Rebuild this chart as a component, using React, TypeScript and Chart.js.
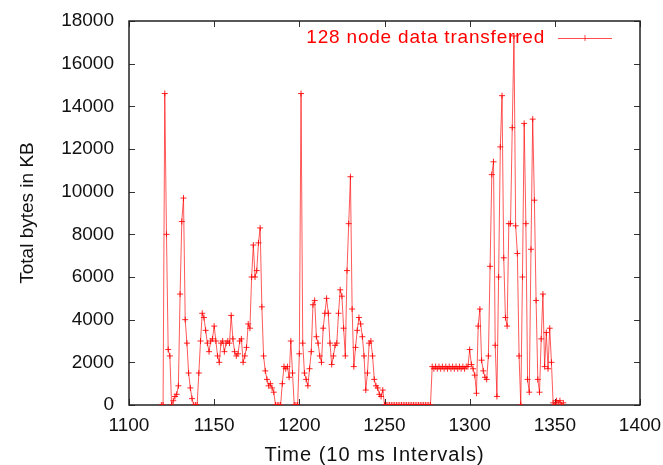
import React, { useEffect, useRef } from "react";
import { Chart, registerables } from "chart.js";

Chart.register(...registerables);

// Time steps (10 ms intervals) start at this value and advance by one per sample
const timeStart = 1119;

// Total bytes transferred (KB) per interval
const bytesKB = [
  0, 0, 14600, 8000, 2600, 2300, 0, 200, 400, 500, // 1119-1128
  900, 5200, 8600, 9700, 4000, 2900, 1500, 800, 300, 0, // 1129-1138
  0, 0, 1500, 3000, 4300, 4100, 3500, 2900, 2500, 3000, // 1139-1148
  3100, 3700, 3000, 2300, 2000, 2900, 3000, 2500, 2900, 3000, // 1149-1158
  2900, 4200, 3100, 2500, 2300, 2400, 3000, 3100, 2000, 2300, // 1159-1168
  2700, 3800, 3600, 6000, 7500, 6000, 6300, 7600, 8300, 4600, // 1169-1178
  2300, 1600, 1200, 900, 1000, 800, 600, 0, 0, 0, // 1179-1188
  0, 1000, 1800, 1700, 1800, 1300, 3000, 1500, 0, 0, // 1189-1198
  0, 2400, 14600, 2900, 1500, 1200, 900, 1700, 2500, 4700, // 1199-1208
  4900, 3200, 2900, 2300, 2000, 3600, 4300, 5000, 4300, 2900, // 1209-1218
  1900, 2300, 2800, 2900, 4300, 5400, 5100, 3600, 2300, 6300, // 1219-1228
  8500, 10700, 4500, 1800, 2700, 3500, 4100, 3800, 3200, 2300, // 1229-1238
  700, 1500, 2900, 3000, 2300, 1200, 900, 800, 500, 400, // 1239-1248
  700, 0, 0, 0, 0, 0, 0, 0, 0, 0, // 1249-1258
  0, 0, 0, 0, 0, 0, 0, 0, 0, 0, // 1259-1268
  0, 0, 0, 0, 0, 0, 0, 0, 0, 1800, // 1269-1278
  1700, 1800, 1700, 1800, 1700, 1800, 1700, 1800, 1700, 1800, // 1279-1288
  1700, 1800, 1700, 1800, 1700, 1800, 1700, 1800, 1700, 1800, // 1289-1298
  1800, 2600, 1900, 1700, 1400, 550, 3700, 4500, 2100, 1600, // 1299-1308
  1300, 1200, 2300, 6500, 10800, 11400, 2800, 400, 6000, 12100, // 1309-1318
  14500, 6900, 4100, 3700, 8500, 8500, 13000, 17300, 8400, 7100, // 1319-1328
  2300, 0, 6000, 13200, 8500, 1200, 600, 7300, 13400, 9600, // 1329-1338
  4900, 1200, 600, 3100, 5200, 1800, 3400, 1700, 3600, 2000, // 1339-1348
  100, 0, 200, 100, 200, 0, 100, // 1349-1355
];

const xTickValues = [1100, 1150, 1200, 1250, 1300, 1350, 1400];
const yTickValues = [0, 2000, 4000, 6000, 8000, 10000, 12000, 14000, 16000, 18000];

const seriesLabel = "128 node data transferred";
const xTitle = "Time (10 ms Intervals)";
const yTitle = "Total bytes in KB";

const FONT = '"Liberation Sans", Arial, Helvetica, sans-serif';
const RED = "#ff0000";

const framePlugin = {
  id: "gnuplotFrame",
  beforeDatasetsDraw(chart: any) {
    const { ctx, chartArea } = chart;
    const { left, right, top, bottom } = chartArea;
    const xs = chart.scales.x;
    const ys = chart.scales.y;
    const tl = 6;
    ctx.save();
    ctx.strokeStyle = "#333";
    ctx.lineWidth = 1;
    ctx.beginPath();
    for (const v of xTickValues) {
      const px = Math.round(xs.getPixelForValue(v)) + 0.5;
      ctx.moveTo(px, bottom);
      ctx.lineTo(px, bottom - tl);
      ctx.moveTo(px, top);
      ctx.lineTo(px, top + tl);
    }
    for (const v of yTickValues) {
      const py = Math.round(ys.getPixelForValue(v)) + 0.5;
      ctx.moveTo(left, py);
      ctx.lineTo(left + tl, py);
      ctx.moveTo(right, py);
      ctx.lineTo(right - tl, py);
    }
    ctx.stroke();
    ctx.strokeStyle = "#222";
    ctx.lineWidth = 1.5;
    ctx.strokeRect(left, top, right - left, bottom - top);
    ctx.restore();
  },
  afterDraw(chart: any) {
    const { ctx, chartArea } = chart;
    // legend (key) inside the plot, top right
    const y = chartArea.top + 17;
    const textRight = chartArea.right - 95;
    const x0 = chartArea.right - 82;
    const x1 = chartArea.right - 28;
    ctx.save();
    ctx.font = `19px ${FONT}`;
    (ctx as any).letterSpacing = "0.8px";
    ctx.fillStyle = RED;
    ctx.textAlign = "right";
    ctx.textBaseline = "middle";
    ctx.fillText(seriesLabel, textRight, y);
    ctx.strokeStyle = "rgba(255,0,0,0.7)";
    ctx.lineWidth = 1;
    ctx.beginPath();
    ctx.moveTo(x0, y + 0.5);
    ctx.lineTo(x1, y + 0.5);
    const mx = (x0 + x1) / 2;
    ctx.moveTo(mx, y - 3);
    ctx.lineTo(mx, y + 3);
    ctx.stroke();
    // x axis title
    ctx.font = `20px ${FONT}`;
    (ctx as any).letterSpacing = "1px";
    ctx.fillStyle = "#111";
    ctx.textAlign = "center";
    ctx.textBaseline = "middle";
    const cx = (chartArea.left + chartArea.right) / 2 - 10;
    ctx.fillText(xTitle, cx, chartArea.bottom + 50);
    ctx.restore();
  },
};

export default function App() {
  const ref = useRef<HTMLCanvasElement | null>(null);

  useEffect(() => {
    document.body.style.margin = "0";
    const canvas = ref.current;
    if (!canvas) return;
    const points = bytesKB.map((v, i) => ({ x: timeStart + i, y: v }));
    const chart = new Chart(canvas, {
      type: "line",
      data: {
        datasets: [
          {
            label: seriesLabel,
            data: points,
            borderColor: "rgba(255,0,0,0.65)",
            borderWidth: 1,
            pointStyle: "cross",
            pointRadius: 3,
            pointBorderColor: "rgba(255,0,0,0.85)",
            pointBorderWidth: 1,
            pointBackgroundColor: RED,
            tension: 0,
            fill: false,
          },
        ],
      },
      options: {
        responsive: false,
        animation: false,
        events: [],
        layout: { padding: { left: 0, right: 23, top: 21, bottom: 0 } },
        plugins: {
          legend: { display: false },
          tooltip: { enabled: false },
        },
        scales: {
          x: {
            type: "linear",
            min: 1100,
            max: 1400,
            grid: { display: false, drawTicks: false },
            border: { display: false },
            ticks: {
              stepSize: 50,
              padding: 9,
              color: "#111",
              font: { family: FONT, size: 19 },
              maxRotation: 0,
              autoSkip: false,
              callback: (v: any) => String(v),
            },
            title: { display: false, text: xTitle },
            afterFit: (s: any) => {
              s.height = 60;
              s.paddingLeft = 0;
              s.paddingRight = 0;
            },
          },
          y: {
            type: "linear",
            min: 0,
            max: 18000,
            grid: { display: false, drawTicks: false },
            border: { display: false },
            ticks: {
              stepSize: 2000,
              padding: 15,
              color: "#111",
              font: { family: FONT, size: 19 },
              autoSkip: false,
              callback: (v: any) => String(v),
            },
            title: {
              display: true,
              text: yTitle,
              color: "#111",
              font: { family: FONT, size: 19 },
              padding: { top: 16, bottom: 0 },
            },
            afterFit: (s: any) => {
              s.width = 129;
              s.paddingTop = 0;
              s.paddingBottom = 0;
            },
          },
        },
      },
      plugins: [framePlugin],
    });
    return () => chart.destroy();
  }, []);

  return (
    <div style={{ width: 663, height: 465 }}>
      <canvas ref={ref} width={663} height={465} style={{ display: "block" }} />
    </div>
  );
}
